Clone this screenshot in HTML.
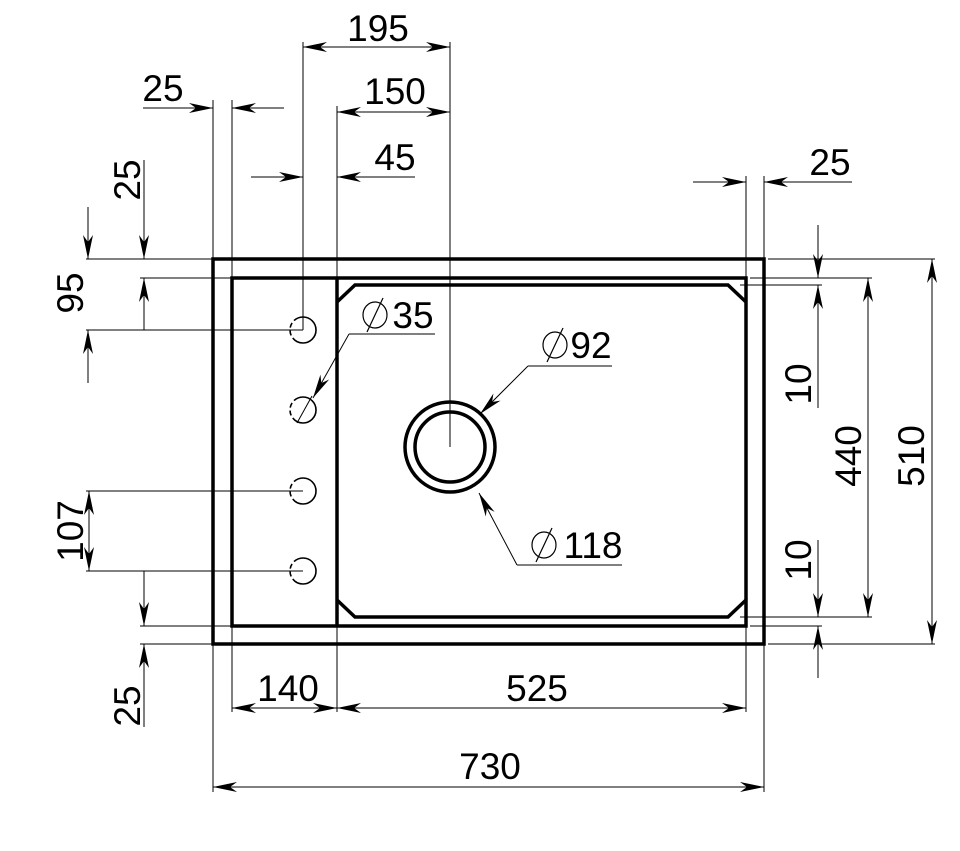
<!DOCTYPE html>
<html><head><meta charset="utf-8"><style>
html,body{margin:0;padding:0;background:#fff;}
svg{display:block;}
text{font-family:"Liberation Sans",Arial,sans-serif;font-size:37px;fill:#000;}
</style></head><body>
<svg width="960" height="851" viewBox="0 0 960 851" xmlns="http://www.w3.org/2000/svg">
<defs>
<marker id="a" markerUnits="userSpaceOnUse" markerWidth="26" markerHeight="14" refX="24" refY="7" orient="auto-start-reverse" viewBox="0 0 26 14">
<path d="M0,2 L24,7 L0,12 L7,7 z" fill="#000"/>
</marker>
</defs>
<g stroke="#000" stroke-width="1" fill="none">
<line x1="213" y1="100" x2="213" y2="792"/>
<line x1="232" y1="100" x2="232" y2="712"/>
<line x1="303" y1="42" x2="303" y2="330"/>
<line x1="337" y1="106" x2="337" y2="712"/>
<line x1="450" y1="42" x2="450" y2="447"/>
<line x1="746" y1="176" x2="746" y2="712"/>
<line x1="764" y1="176" x2="764" y2="792"/>
<line x1="86" y1="259" x2="213" y2="259"/>
<line x1="140" y1="278" x2="232" y2="278"/>
<line x1="86" y1="330" x2="303" y2="330"/>
<line x1="86" y1="491" x2="303" y2="491"/>
<line x1="86" y1="571" x2="303" y2="571"/>
<line x1="140" y1="626" x2="232" y2="626"/>
<line x1="140" y1="644" x2="213" y2="644"/>
<line x1="768" y1="259" x2="935" y2="259"/>
<line x1="750" y1="278" x2="872" y2="278"/>
<line x1="740" y1="285" x2="822" y2="285"/>
<line x1="740" y1="617" x2="872" y2="617"/>
<line x1="750" y1="626" x2="822" y2="626"/>
<line x1="768" y1="644" x2="935" y2="644"/>

<line x1="303" y1="47" x2="450" y2="47" marker-start="url(#a)" marker-end="url(#a)"/>
<line x1="337" y1="112" x2="450" y2="112" marker-start="url(#a)" marker-end="url(#a)"/>
<line x1="143" y1="108" x2="213" y2="108" marker-end="url(#a)"/>
<line x1="284" y1="108" x2="232" y2="108" marker-end="url(#a)"/>
<line x1="251" y1="177" x2="303" y2="177" marker-end="url(#a)"/>
<line x1="415" y1="177" x2="337" y2="177" marker-end="url(#a)"/>
<line x1="693" y1="182" x2="746" y2="182" marker-end="url(#a)"/>
<line x1="852" y1="182" x2="764" y2="182" marker-end="url(#a)"/>

<line x1="144" y1="160" x2="144" y2="259" marker-end="url(#a)"/>
<line x1="144" y1="330" x2="144" y2="278" marker-end="url(#a)"/>
<line x1="88" y1="207" x2="88" y2="259" marker-end="url(#a)"/>
<line x1="88" y1="383" x2="88" y2="330" marker-end="url(#a)"/>
<line x1="89" y1="491" x2="89" y2="571" marker-start="url(#a)" marker-end="url(#a)"/>
<line x1="144" y1="571" x2="144" y2="626" marker-end="url(#a)"/>
<line x1="144" y1="727" x2="144" y2="644" marker-end="url(#a)"/>

<line x1="818" y1="225" x2="818" y2="278" marker-end="url(#a)"/>
<line x1="818" y1="408" x2="818" y2="285" marker-end="url(#a)"/>
<line x1="818" y1="540" x2="818" y2="617" marker-end="url(#a)"/>
<line x1="818" y1="678" x2="818" y2="626" marker-end="url(#a)"/>
<line x1="868" y1="278" x2="868" y2="617" marker-start="url(#a)" marker-end="url(#a)"/>
<line x1="932" y1="259" x2="932" y2="644" marker-start="url(#a)" marker-end="url(#a)"/>

<line x1="232" y1="708" x2="337" y2="708" marker-start="url(#a)" marker-end="url(#a)"/>
<line x1="337" y1="708" x2="746" y2="708" marker-start="url(#a)" marker-end="url(#a)"/>
<line x1="213" y1="787" x2="764" y2="787" marker-start="url(#a)" marker-end="url(#a)"/>

<polyline points="435,334 349,334"/>
<line x1="349" y1="334" x2="313" y2="398" marker-end="url(#a)"/>
<polyline points="612,366 528,366"/>
<line x1="528" y1="366" x2="480" y2="414" marker-end="url(#a)"/>
<polyline points="622,565 517,565"/>
<line x1="517" y1="565" x2="479" y2="493" marker-end="url(#a)"/>
</g>

<g stroke="#000" stroke-width="3.5" fill="none">
<rect x="213" y="259" width="551" height="385"/>
<rect x="232" y="278" width="514" height="348"/>
<line x1="337" y1="278" x2="337" y2="626"/>
<polyline points="337,302 355,285 728,285 746,302"/>
<polyline points="337,600 355,617 728,617 746,600"/>
<circle cx="450" cy="447" r="45"/>
<circle cx="450" cy="447" r="35"/>
</g>
<g stroke="#000" stroke-width="1.6" fill="none">
<circle cx="303" cy="330" r="13" stroke-dasharray="32 3 5 3 5 3 40"/>
<circle cx="303" cy="410" r="13" stroke-dasharray="32 3 5 3 5 3 40"/>
<circle cx="303" cy="491" r="13" stroke-dasharray="32 3 5 3 5 3 40"/>
<circle cx="303" cy="571" r="13" stroke-dasharray="32 3 5 3 5 3 40"/>
<line x1="297" y1="423" x2="312" y2="396" stroke-width="1"/>
</g>
<g stroke="#000" stroke-width="1.2" fill="none">
<ellipse cx="375" cy="315" rx="12" ry="13"/><line x1="367" y1="332" x2="383" y2="298"/>
<ellipse cx="555" cy="345" rx="12" ry="13"/><line x1="547" y1="362" x2="563" y2="328"/>
<ellipse cx="544" cy="545" rx="12" ry="13"/><line x1="536" y1="562" x2="552" y2="528"/>
</g>

<text x="378" y="41" text-anchor="middle">195</text>
<text x="395" y="104" text-anchor="middle">150</text>
<text x="163" y="101" text-anchor="middle">25</text>
<text x="395" y="170" text-anchor="middle">45</text>
<text x="830" y="175" text-anchor="middle">25</text>
<text x="413" y="328" text-anchor="middle">35</text>
<text x="591" y="358" text-anchor="middle">92</text>
<text x="593" y="558" text-anchor="middle">118</text>
<text x="288" y="701" text-anchor="middle">140</text>
<text x="537" y="701" text-anchor="middle">525</text>
<text x="490" y="779" text-anchor="middle">730</text>
<text transform="translate(140,180) rotate(-90)" text-anchor="middle">25</text>
<text transform="translate(83,293) rotate(-90)" text-anchor="middle">95</text>
<text transform="translate(83,531) rotate(-90)" text-anchor="middle">107</text>
<text transform="translate(140,706) rotate(-90)" text-anchor="middle">25</text>
<text transform="translate(811,384) rotate(-90)" text-anchor="middle">10</text>
<text transform="translate(811,560) rotate(-90)" text-anchor="middle">10</text>
<text transform="translate(861,456) rotate(-90)" text-anchor="middle">440</text>
<text transform="translate(924,456) rotate(-90)" text-anchor="middle">510</text>
</svg>
</body></html>
